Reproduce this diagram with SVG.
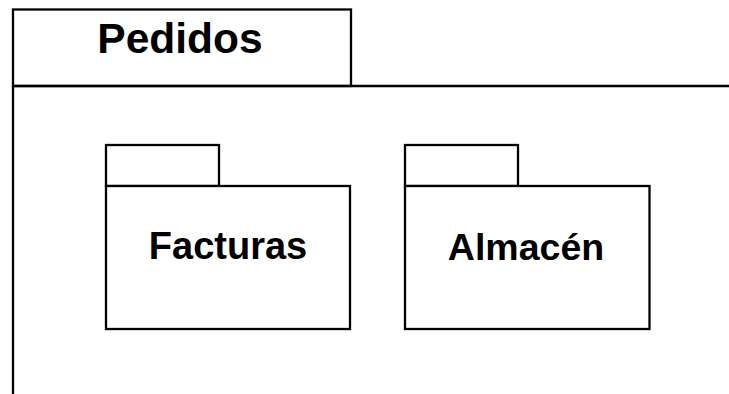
<svg xmlns="http://www.w3.org/2000/svg" width="729" height="394" viewBox="0 0 729 394">
<style>
.s{fill:#fff;stroke:#000;stroke-width:2.3}
.l{fill:none;stroke:#000;stroke-width:2.3}
.t{font-family:"Liberation Sans",Arial,sans-serif;font-weight:bold;fill:#000;text-anchor:middle}
</style>
<rect x="0" y="0" width="729" height="394" fill="#fff"/>
<g id="pedidos">
<rect class="s" x="13" y="9.5" width="338" height="76.5"/>
<path class="l" d="M13 86 H730 M13 86 V395"/>
<text class="t" x="180" y="53" font-size="42.5">Pedidos</text>
</g>
<g id="facturas">
<rect class="s" x="106" y="145" width="113" height="41"/>
<rect class="s" x="106" y="186" width="244" height="143"/>
<text class="t" x="228" y="258.5" font-size="38">Facturas</text>
</g>
<g id="almacen">
<rect class="s" x="405" y="145" width="113" height="41"/>
<rect class="s" x="405" y="186" width="244.5" height="143"/>
<text class="t" x="526" y="260" font-size="37.5">Almacén</text>
</g>
<g id="connectors"></g>
</svg>
